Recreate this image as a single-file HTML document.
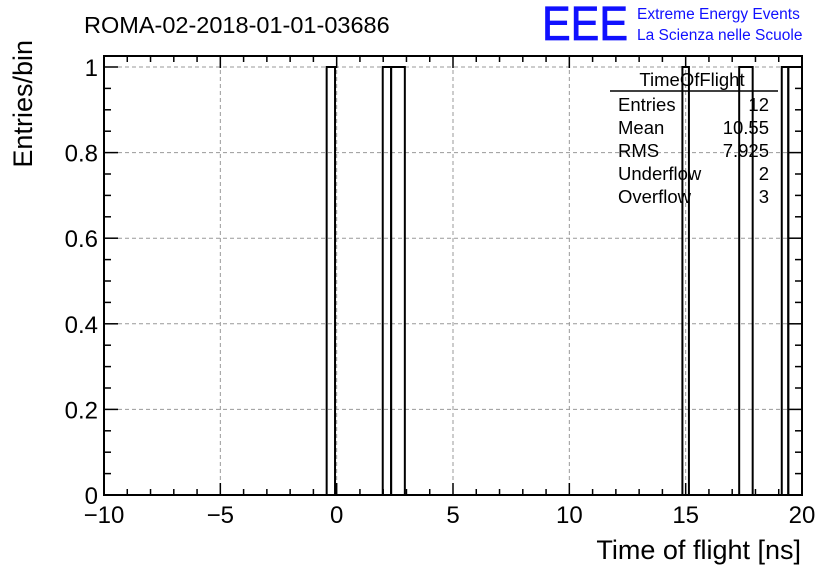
<!DOCTYPE html>
<html><head><meta charset="utf-8"><style>
body{margin:0;background:#fff}
svg{display:block;font-family:"Liberation Sans",sans-serif}
</style></head><body>
<svg id="c" width="836" height="572" viewBox="0 0 836 572">
<text x="84" y="33" font-size="23.5">ROMA-02-2018-01-01-03686</text>
<text x="542" y="40" font-size="48" fill="#1010ff" stroke="#1010ff" stroke-width="0.8" textLength="86" lengthAdjust="spacingAndGlyphs">EEE</text>
<text x="637" y="19" font-size="15.5" fill="#1010ff">Extreme Energy Events</text>
<text x="637" y="40" font-size="15.5" fill="#1010ff">La Scienza nelle Scuole</text>
<g id="grid"></g>
<g id="bars"></g>
<g id="axes"></g>
<g font-size="18.5">
<text x="692" y="86" text-anchor="middle">TimeOfFlight</text>
<line x1="610" y1="91" x2="778" y2="91" stroke="#000" stroke-width="1.5"/>
<text x="618" y="111">Entries</text><text x="769" y="111" text-anchor="end">12</text>
<text x="618" y="134">Mean</text><text x="769" y="134" text-anchor="end">10.55</text>
<text x="618" y="157">RMS</text><text x="769" y="157" text-anchor="end">7.925</text>
<text x="618" y="180">Underflow</text><text x="769" y="180" text-anchor="end">2</text>
<text x="618" y="203">Overflow</text><text x="769" y="203" text-anchor="end">3</text>
</g>
<text x="801" y="559" font-size="27" text-anchor="end">Time of flight [ns]</text>
<text transform="translate(32,40) rotate(-90)" font-size="27" text-anchor="end">Entries/bin</text>
</svg>
<script>
const binLo=[-0.43,1.98,2.34,14.86,17.3,19.13,19.41];
const binHi=[-0.07,2.34,2.93,15.14,17.88,19.41,20.0];
const counts=[1,1,1,1,1,1,1];
const xTicks=[-10,-5,0,5,10,15,20];
const xTickLabels=["\u221210","\u22125","0","5","10","15","20"];
const yTicks=[0,0.2,0.4,0.6,0.8,1];
const yTickLabels=["0","0.2","0.4","0.6","0.8","1"];
const X0=104,X1=802,Y0=495,YT=56,xmin=-10,xmax=20,ymax=1.0257;
const sx=v=>X0+(v-xmin)/(xmax-xmin)*(X1-X0);
const sy=v=>Y0-v/ymax*(Y0-YT);
const NS="http://www.w3.org/2000/svg";
function mk(p,t,a){const e=document.createElementNS(NS,t);for(const k in a)e.setAttribute(k,a[k]);p.appendChild(e);return e;}
const g=document.getElementById('grid'),b=document.getElementById('bars'),ax=document.getElementById('axes');
xTicks.forEach(v=>{if(v>xmin&&v<xmax){const l=mk(g,'line',{x1:sx(v),x2:sx(v),y1:YT,y2:Y0,stroke:'#999','stroke-dasharray':'4,3','stroke-width':1});

}});
yTicks.forEach(v=>{if(v>0){const l=mk(g,'line',{x1:X0,x2:X1,y1:sy(v),y2:sy(v),stroke:'#999','stroke-dasharray':'4,3','stroke-width':1});

}});
binLo.forEach((lo,i)=>{const x1=sx(lo),x2=sx(binHi[i]),y=sy(counts[i]);
const r=mk(b,'path',{d:`M${x1},${Y0}V${y}H${x2}V${Y0}`,fill:'none',stroke:'#000','stroke-width':2});

});
const fr=mk(ax,'rect',{x:X0,y:YT,width:X1-X0,height:Y0-YT,fill:'none',stroke:'#000','stroke-width':2});


for(let v=xmin;v<=xmax;v++){const L=(v%5===0)?12:6;
mk(ax,'line',{x1:sx(v),x2:sx(v),y1:Y0,y2:Y0-L,stroke:'#000','stroke-width':1.5});
mk(ax,'line',{x1:sx(v),x2:sx(v),y1:YT,y2:YT+L,stroke:'#000','stroke-width':1.5});}
for(let k=0;k<=20;k++){const v=k*0.05;const L=(k%4===0)?14:7;
mk(ax,'line',{x1:X0,x2:X0+L,y1:sy(v),y2:sy(v),stroke:'#000','stroke-width':1.5});
mk(ax,'line',{x1:X1,x2:X1-L,y1:sy(v),y2:sy(v),stroke:'#000','stroke-width':1.5});}
xTicks.forEach((v,i)=>{const t=mk(ax,'text',{x:sx(v),y:Y0+28,'font-size':24,'text-anchor':'middle'});t.textContent=xTickLabels[i];

});
yTicks.forEach((v,i)=>{const t=mk(ax,'text',{x:X0-6,y:sy(v)+9,'font-size':24,'text-anchor':'end'});t.textContent=yTickLabels[i];

});
</script>
</body></html>
